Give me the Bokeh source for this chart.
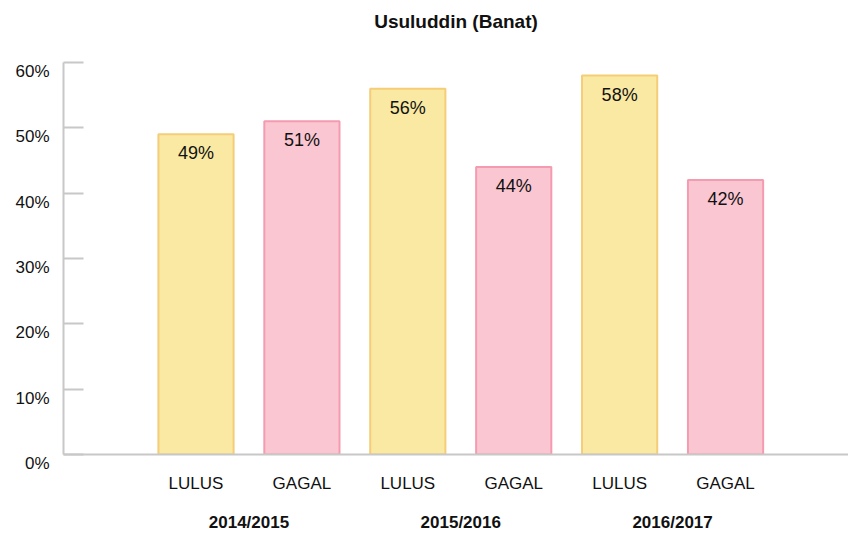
from bokeh.plotting import figure
from bokeh.models import ColumnDataSource, FixedTicker, LinearAxis, Range1d
from bokeh.core.properties import value
from bokeh.embed import file_html
from bokeh.resources import INLINE

title = "Usuluddin (Banat)"
years = ["2014/2015", "2015/2016", "2016/2017"]
status = ["LULUS", "GAGAL", "LULUS", "GAGAL", "LULUS", "GAGAL"]
values = [49, 51, 56, 44, 58, 42]
y_ticks = [0, 10, 20, 30, 40, 50, 60]

fill_map = {"LULUS": "#f9e9a3", "GAGAL": "#fac6d1"}
line_map = {"LULUS": "#f5cd78", "GAGAL": "#f59bb0"}

xs = list(range(len(status)))
src = ColumnDataSource(dict(
    x=xs,
    top=values,
    fill=[fill_map[s] for s in status],
    line=[line_map[s] for s in status],
    label=[f"{v}%" for v in values],
))

FONT = "Liberation Sans"
X_START, X_END = -1.251, 6.161

p = figure(width=848, height=534, output_backend="svg", toolbar_location=None,
           x_range=Range1d(X_START, X_END), y_range=Range1d(0, 60),
           min_border_left=63, min_border_right=0, min_border_top=62, min_border_bottom=80,
           background_fill_color="white", border_fill_color="white")
p.outline_line_color = None
p.grid.visible = False

# trailing newline keeps the title near the top of the page
p.title.text = title + "\n"
p.title.align = "center"
p.title.vertical_align = "top"
p.title.text_font = FONT
p.title.text_font_size = "19px"
p.title.text_font_style = "bold"
p.title.text_color = "#111111"
p.title.standoff = 16

p.vbar(x="x", top="top", width=0.71, bottom=0, source=src,
       fill_color="fill", line_color="line", line_width=2)

p.text(x="x", y="top", text="label", source=src, text_align="center",
       text_baseline="middle", y_offset=19, text_font=value(FONT),
       text_font_size="18px", text_color="#111111")

# y axis (labels sit a little below their ticks)
ya = p.yaxis[0]
ya.ticker = FixedTicker(ticks=y_ticks)
ya.major_label_overrides = {t: "\n" + f"{t}%" for t in y_ticks}
ya.axis_line_color = "#c8c8c8"
ya.axis_line_width = 2
ya.major_tick_line_color = "#c8c8c8"
ya.major_tick_line_width = 2
ya.major_tick_in = 20
ya.major_tick_out = 0
ya.minor_tick_line_color = None
ya.major_label_text_font = FONT
ya.major_label_text_font_size = "17px"
ya.major_label_text_color = "#111111"
ya.major_label_text_line_height = 0.94
ya.major_label_standoff = 14

# x axis (status)
xa = p.xaxis[0]
xa.ticker = FixedTicker(ticks=xs)
xa.major_label_overrides = {i: s for i, s in enumerate(status)}
xa.axis_line_color = "#c8c8c8"
xa.axis_line_width = 2
xa.major_tick_line_color = None
xa.minor_tick_line_color = None
xa.major_label_text_font = FONT
xa.major_label_text_font_size = "17px"
xa.major_label_text_color = "#111111"
xa.major_label_standoff = 13

# group axis (years)
centers = [2 * i + 0.5 for i in range(len(years))]
ga = LinearAxis(ticker=FixedTicker(ticks=centers),
                major_label_overrides={c: y for c, y in zip(centers, years)})
ga.axis_line_color = None
ga.major_tick_line_color = None
ga.minor_tick_line_color = None
ga.major_label_text_font = FONT
ga.major_label_text_font_size = "17px"
ga.major_label_text_font_style = "bold"
ga.major_label_text_color = "#111111"
ga.major_label_standoff = 11
p.add_layout(ga, "below")

open("out.html", "w").write(file_html(p, INLINE))
